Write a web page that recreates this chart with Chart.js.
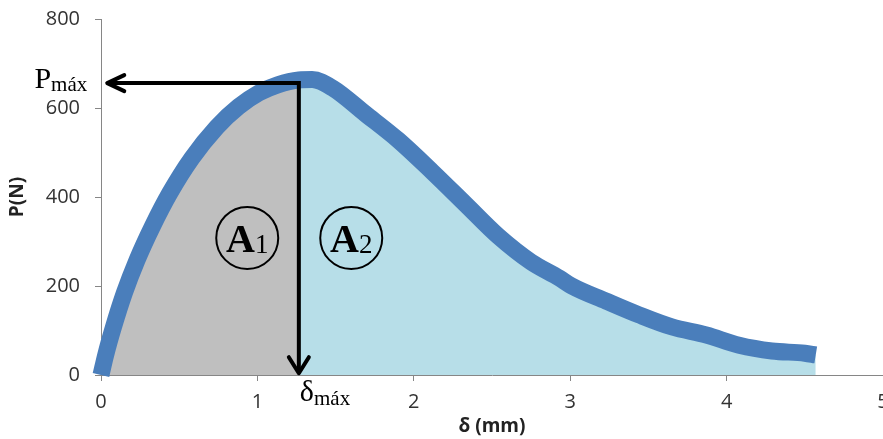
<!DOCTYPE html>
<html>
<head>
<meta charset="utf-8">
<script src="https://cdn.jsdelivr.net/npm/chart.js@4/dist/chart.umd.min.js"></script>
<style>
  html, body { margin: 0; padding: 0; background: #fff; }
  #clip { width: 883px; height: 439px; overflow: hidden; }
  #wrap { width: 900px; height: 439px; }
</style>
</head>
<body>
<div id="clip"><div id="wrap"><canvas id="chart"></canvas></div></div>
<script>
// displacement (mm) and load (N)
var deltaMm = [0, 0.03, 0.08, 0.15, 0.23, 0.33, 0.44, 0.58, 0.74, 0.88, 1.01, 1.13, 1.265, 1.35, 1.48, 1.69, 1.90, 2.12, 2.33, 2.54, 2.75, 2.93, 3.01, 3.23, 3.44, 3.65, 3.87, 4.08, 4.29, 4.50, 4.57];
var loadN   = [0, 45, 108, 185, 258, 335, 409, 487, 557, 603, 634, 652, 663, 664, 645, 587, 528, 456, 384, 312, 254, 218, 200, 166, 135, 108, 90, 67, 54, 49, 45];

var xTicks = [0, 1, 2, 3, 4, 5];
var yTicks = [0, 200, 400, 600, 800];

// annotation values
var peakDelta = 1.265;
var peakLoad = 656;
var arrowEndDelta = 0.04;
var arrowEndLoad = 4;
var areaLabels = [
    {text: 'A', sub: '1', delta: 0.935, load: 308},
    {text: 'A', sub: '2', delta: 1.60, load: 308}
];

var curve = deltaMm.map((d, i) => ({x: d, y: loadN[i]}));
var beforePeak = curve.filter(p => p.x <= peakDelta);
var afterPeak = curve.filter(p => p.x >= peakDelta);

function arrowHead(ctx, tx, ty, dx, dy, back, side) {
    // dx,dy = unit direction of the arrow
    ctx.beginPath();
    ctx.moveTo(tx - dx * back - dy * side, ty - dy * back + dx * side);
    ctx.lineTo(tx, ty);
    ctx.lineTo(tx - dx * back + dy * side, ty - dy * back - dx * side);
    ctx.stroke();
}

var annotations = {
    id: 'annotations',
    afterDatasetsDraw: function (chart) {
        var ctx = chart.ctx;
        var xs = chart.scales.x, ys = chart.scales.y;
        var cx = xs.getPixelForValue(peakDelta);
        var cy = ys.getPixelForValue(peakLoad);
        var hx = xs.getPixelForValue(arrowEndDelta);
        var vy = ys.getPixelForValue(arrowEndLoad);

        ctx.save();
        ctx.strokeStyle = '#000';
        ctx.lineWidth = 4;
        ctx.lineJoin = 'miter';
        ctx.beginPath();
        ctx.moveTo(hx + 2, cy);
        ctx.lineTo(cx, cy);
        ctx.lineTo(cx, vy - 2);
        ctx.stroke();
        ctx.lineCap = 'round';
        ctx.lineJoin = 'round';
        arrowHead(ctx, hx, cy, -1, 0, 17, 8);
        arrowHead(ctx, cx, vy, 0, 1, 16, 10);

        // Pmáx
        ctx.fillStyle = '#000';
        ctx.textBaseline = 'alphabetic';
        var subFont = '21px "Liberation Serif"';
        ctx.font = subFont;
        var wSub = ctx.measureText('máx').width;
        ctx.textAlign = 'right';
        ctx.fillText('máx', hx - 20, cy + 8);
        ctx.font = '30px "Liberation Serif"';
        ctx.fillText('P', hx - 20 - wSub, cy + 5);

        // δmáx
        ctx.textAlign = 'left';
        ctx.font = '30px "Liberation Serif"';
        var wd = ctx.measureText('δ').width;
        ctx.fillText('δ', cx + 1, vy + 28);
        ctx.font = subFont;
        ctx.fillText('máx', cx + 1 + wd, vy + 32);

        // circled area labels
        areaLabels.forEach(function (a) {
            var px = xs.getPixelForValue(a.delta);
            var py = ys.getPixelForValue(a.load);
            ctx.lineWidth = 2;
            ctx.beginPath();
            ctx.arc(px, py, 31, 0, Math.PI * 2);
            ctx.stroke();
            ctx.font = 'bold 40px "Liberation Serif"';
            var wa = ctx.measureText(a.text).width;
            ctx.font = '27px "Liberation Serif"';
            var ws = ctx.measureText(a.sub).width;
            var left = px - (wa + ws) / 2;
            ctx.textAlign = 'left';
            ctx.font = 'bold 40px "Liberation Serif"';
            ctx.fillText(a.text, left, py + 14);
            ctx.font = '27px "Liberation Serif"';
            ctx.fillText(a.sub, left + wa, py + 15);
        });
        ctx.restore();
    }
};

var tickFont = {family: '"Open Sans"', size: 20};
var titleFont = {family: '"Open Sans"', size: 19, weight: 'bold'};

new Chart(document.getElementById('chart'), {
    type: 'line',
    data: {
        datasets: [
            {
                data: curve,
                borderColor: '#4A7EBB',
                borderWidth: 17,
                pointRadius: 0,
                fill: false,
                clip: 20,
                cubicInterpolationMode: 'monotone'
            },
            {
                data: beforePeak,
                borderWidth: 0,
                backgroundColor: '#BFBFBF',
                pointRadius: 0,
                fill: 'origin',
                cubicInterpolationMode: 'monotone'
            },
            {
                data: afterPeak,
                borderWidth: 0,
                backgroundColor: '#B7DEE8',
                pointRadius: 0,
                fill: 'origin',
                cubicInterpolationMode: 'monotone'
            }
        ]
    },
    options: {
        responsive: true,
        maintainAspectRatio: false,
        animation: false,
        layout: {padding: {top: 19, right: 17, left: 0, bottom: 0}},
        plugins: {
            legend: {display: false},
            tooltip: {enabled: false}
        },
        scales: {
            x: {
                type: 'linear',
                min: 0,
                max: 5,
                afterFit: function (s) { s.height = 64; s.paddingLeft = 0; s.paddingRight = 0; },
                afterBuildTicks: function (s) { s.ticks = xTicks.map(v => ({value: v})); },
                grid: {drawOnChartArea: false, drawTicks: true, tickLength: 6, color: '#868686'},
                border: {display: true, color: '#868686', width: 1},
                ticks: {font: tickFont, color: '#333', padding: 9},
                title: {display: true, text: 'δ (mm)', font: titleFont, color: '#222', padding: {top: 0, bottom: 1}}
            },
            y: {
                min: 0,
                max: 800,
                afterFit: function (s) { s.width = 101; s.paddingTop = 0; s.paddingBottom = 0; },
                afterBuildTicks: function (s) { s.ticks = yTicks.map(v => ({value: v})); },
                grid: {drawOnChartArea: false, drawTicks: true, tickLength: 6, color: '#868686'},
                border: {display: true, color: '#868686', width: 1},
                ticks: {font: tickFont, color: '#333', padding: 15},
                title: {display: true, text: 'P(N)', font: titleFont, color: '#222', padding: {top: 6, bottom: 0}}
            }
        }
    },
    plugins: [annotations]
});
</script>
</body>
</html>
